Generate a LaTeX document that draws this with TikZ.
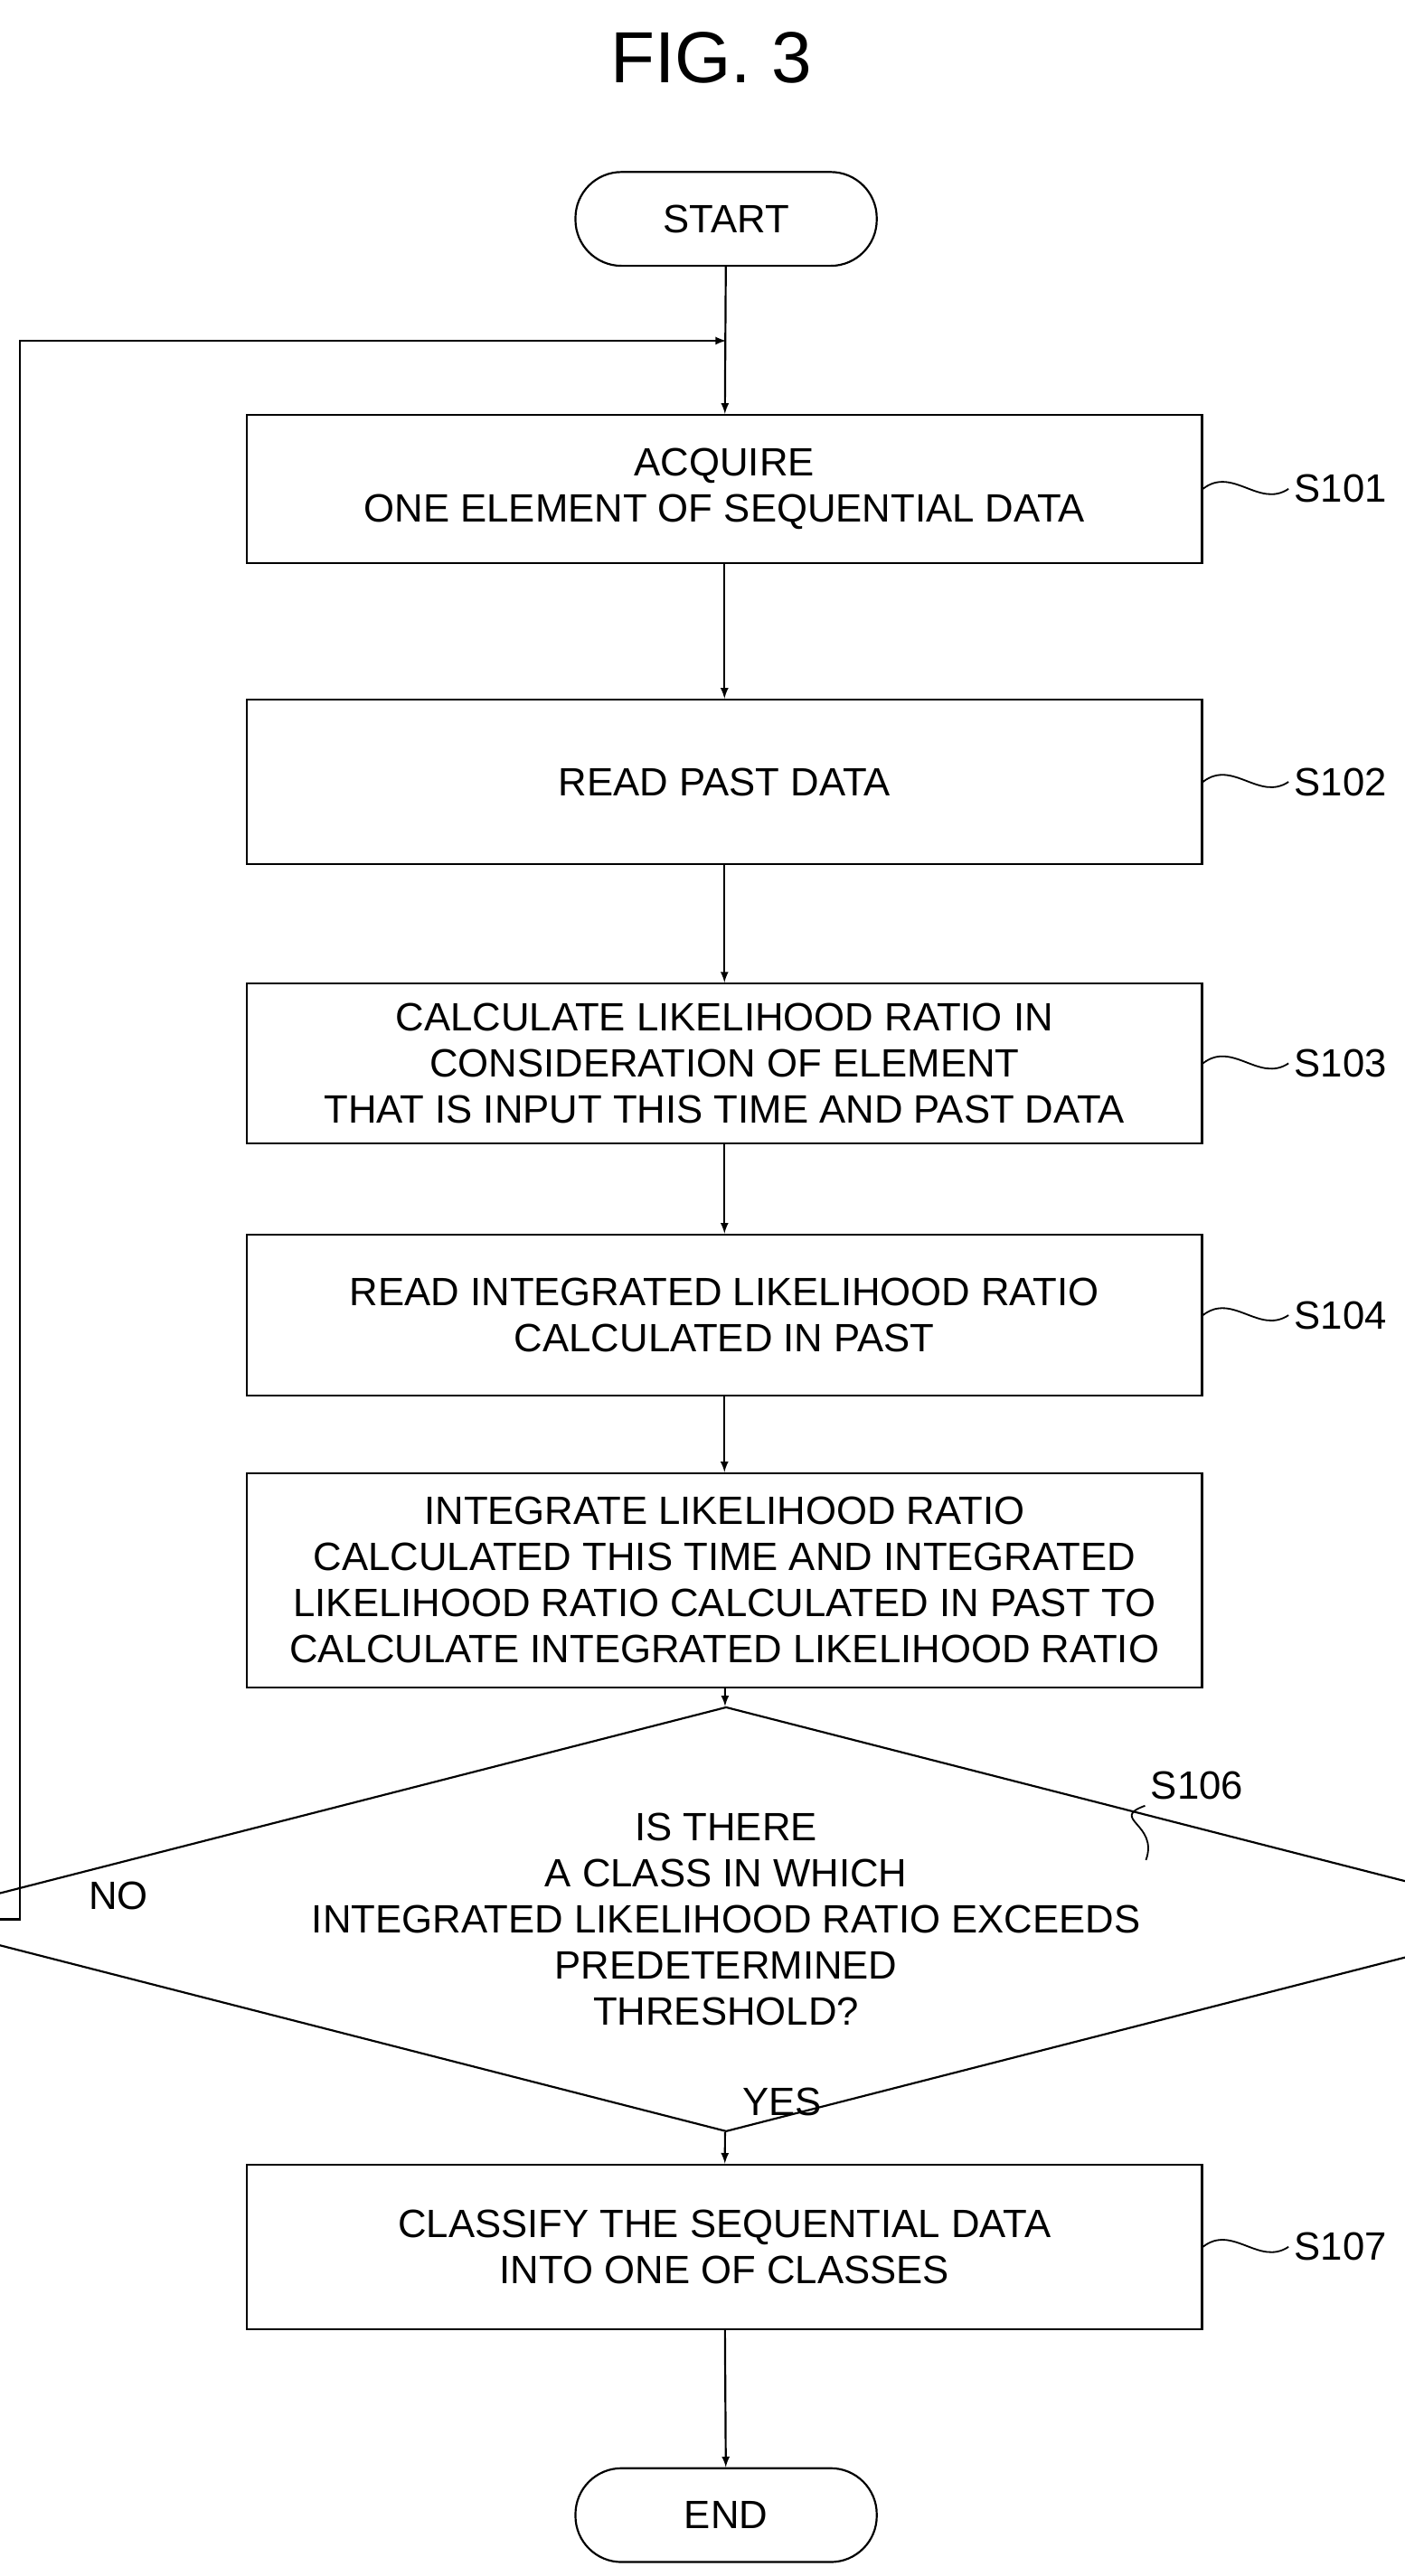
\documentclass[tikz,border=0pt]{standalone}
\usepackage{fontspec}
\setmainfont{Liberation Sans}
\usetikzlibrary{shapes.geometric,positioning}
\tikzset{
  proc/.style={draw,line width=1.2pt,minimum width=580pt,align=center,font=\fontsize{24}{28}\selectfont},
  term/.style={draw,line width=1.2pt,rounded corners=28pt,minimum width=183pt,minimum height=57pt,font=\fontsize{24}{28}\selectfont},
  lbl/.style={font=\fontsize{24}{28}\selectfont},
  flow/.style={line width=1.2pt,-latex},
  tag/.style={line width=1pt}
}
\begin{document}
\begin{tikzpicture}[x=1pt,y=-1pt]
\useasboundingbox (0,0) rectangle (853,1565);
\node[font=\fontsize{44}{50}\selectfont] (fig) at (432,35) {FIG.\ 3};
\node[term] (start) at (441,133) {START};
\node[proc,minimum height=90pt] (s101) at (440,297) {ACQUIRE\\ONE ELEMENT OF SEQUENTIAL DATA};
\node[proc,minimum height=100pt] (s102) at (440,475) {READ PAST DATA};
\node[proc,minimum height=97pt] (s103) at (440,646) {CALCULATE LIKELIHOOD RATIO IN\\CONSIDERATION OF ELEMENT\\THAT IS INPUT THIS TIME AND PAST DATA};
\node[proc,minimum height=98pt] (s104) at (440,799) {READ INTEGRATED LIKELIHOOD RATIO\\CALCULATED IN PAST};
\node[proc,minimum height=130pt] (s105) at (440,960) {INTEGRATE LIKELIHOOD RATIO\\CALCULATED THIS TIME AND INTEGRATED\\LIKELIHOOD RATIO CALCULATED IN PAST TO\\CALCULATE INTEGRATED LIKELIHOOD RATIO};
\node[draw,line width=1.2pt,diamond,aspect=3.9,inner sep=0pt,minimum width=695pt,minimum height=178pt,align=center,font=\fontsize{24}{28}\selectfont] (s106) at (441,1166) {IS THERE\\A CLASS IN WHICH\\INTEGRATED LIKELIHOOD RATIO EXCEEDS\\PREDETERMINED\\THRESHOLD?};
\node[proc,minimum height=100pt] (s107) at (440,1365) {CLASSIFY THE SEQUENTIAL DATA\\INTO ONE OF CLASSES};
\node[term] (end) at (441,1528) {END};
% connectors
\coordinate (loopin) at (441,207);
\coordinate (loopl) at (12,207);
\draw[flow] (start) -- (s101);
\draw[flow] (s101) -- (s102);
\draw[flow] (s102) -- (s103);
\draw[flow] (s103) -- (s104);
\draw[flow] (s104) -- (s105);
\draw[flow] (s105) -- (s106);
\draw[flow] (s106) -- (s107);
\draw[flow] (s107) -- (end);
\draw[flow] (s106.west) -| (loopl) -- (loopin);
\node[lbl] (no) at (72,1152) {NO};
\node[lbl] (yes) at (475,1277) {YES};
% step tags
\foreach \s/\t in {s101/S101,s102/S102,s103/S103,s104/S104,s107/S107}{
  \node[lbl,anchor=west] (t\s) at ([xshift=52pt]\s.east) {\t};
  \draw[tag] (\s.east) .. controls +(18,-14) and +(-18,12) .. (t\s.west);
}
\node[lbl] (ts106) at (727,1085) {S106};
\coordinate (d106) at (696,1130);
\draw[tag] (d106) .. controls +(8,-22) and +(-22,8) .. (ts106.south west);
\end{tikzpicture}
\end{document}
